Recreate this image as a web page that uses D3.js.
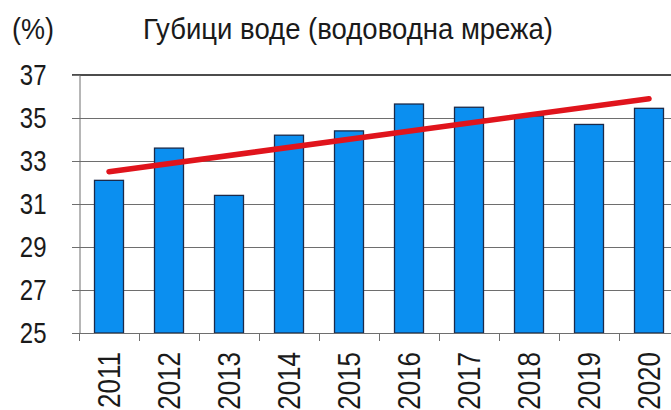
<!DOCTYPE html>
<html>
<head>
<meta charset="utf-8">
<script src="https://cdn.jsdelivr.net/npm/d3@7"></script>
<style>
html, body { margin: 0; padding: 0; background: #fff; }
svg { display: block; }
text { font-family: "Liberation Sans", Arial, sans-serif; fill: #1a1a1a; }
</style>
</head>
<body>
<svg id="chart" width="671" height="410"></svg>
<script>
const years = ["2011","2012","2013","2014","2015","2016","2017","2018","2019","2020"];
const losses = [32.1, 33.6, 31.4, 34.2, 34.4, 35.65, 35.5, 35.1, 34.7, 35.45];
const trendYears = ["2011", "2020"];
const trendValues = [32.5, 35.9];
const yTicks = [25, 27, 29, 31, 33, 35, 37];
const title = "Губици воде (водоводна мрежа)";
const unitLabel = "(%)";

(function () {
const svg = d3.select("#chart");
const pL = 79, pR = 679, pT = 75, pB = 333;

const x = d3.scaleBand().domain(years).range([pL, pR]).paddingInner(0.5).paddingOuter(0.25);
const y = d3.scaleLinear().domain([25, 37]).range([pB, pT]);

svg.append("rect").attr("width", 671).attr("height", 410).attr("fill", "#fff");

// gridlines
svg.append("g").selectAll("line").data(yTicks.filter(d => d !== 25 && d !== 37)).join("line")
  .attr("x1", pL - 7).attr("x2", pR)
  .attr("y1", d => Math.round(y(d)) + 0.5).attr("y2", d => Math.round(y(d)) + 0.5)
  .attr("stroke", "#6e6e6e").attr("stroke-width", 1);
// top border line
svg.append("line").attr("x1", pL - 7).attr("x2", pR)
  .attr("y1", y(37)).attr("y2", y(37)).attr("stroke", "#111").attr("stroke-width", 1.6);

// y axis
const yAxis = d3.axisLeft(y).tickValues(yTicks).tickSize(7).tickPadding(26);
const gy = svg.append("g").attr("transform", `translate(${pL + 0.5},0)`).call(yAxis);
gy.select(".domain").attr("stroke", "#6e6e6e");
gy.selectAll(".tick line").attr("stroke", "#6e6e6e");
gy.selectAll(".tick text").attr("font-size", 24).attr("fill", "#1a1a1a")
  .attr("font-family", "Liberation Sans, Arial, sans-serif")
  .attr("transform", "scale(1,1.2)");

// bars
svg.append("g").selectAll("rect").data(years).join("rect")
  .attr("x", d => x(d) + 0.5).attr("width", x.bandwidth() - 1)
  .attr("y", (d, i) => y(losses[i])).attr("height", (d, i) => pB - y(losses[i]))
  .attr("fill", "#0b8ff0").attr("stroke", "#1b2a4a").attr("stroke-width", 1.3);

// x axis
const gx = svg.append("g");
gx.append("line").attr("x1", pL - 7).attr("x2", pR).attr("y1", pB + 0.5).attr("y2", pB + 0.5)
  .attr("stroke", "#6e6e6e");
gx.selectAll("line.tk").data(years).join("line").attr("class", "tk")
  .attr("x1", d => Math.round(x(d) - x.step() * 0.25) + 0.5)
  .attr("x2", d => Math.round(x(d) - x.step() * 0.25) + 0.5)
  .attr("y1", pB).attr("y2", pB + 8).attr("stroke", "#6e6e6e");
gx.selectAll("text").data(years).join("text")
  .attr("transform", d => `translate(${x(d) + x.bandwidth() / 2 + 11},${pB + 19}) rotate(-90) scale(1,1.18)`)
  .attr("text-anchor", "end").attr("font-size", 26).text(d => d);

// trend line
const line = d3.line().x(d => x(d[0]) + x.bandwidth() / 2).y(d => y(d[1]));
svg.append("path").datum(trendYears.map((d, i) => [d, trendValues[i]]))
  .attr("d", line).attr("fill", "none").attr("stroke", "#e0141c").attr("stroke-width", 5.5)
  .attr("stroke-linecap", "round");

// titles
svg.append("text").attr("transform", "translate(12,39) scale(1,1.06)").attr("font-size", 27).text(unitLabel);
svg.append("text").attr("transform", "translate(143,39) scale(1,1.06)").attr("font-size", 27)
  .attr("textLength", 410).attr("lengthAdjust", "spacingAndGlyphs").text(title);
})();
</script>
</body>
</html>
